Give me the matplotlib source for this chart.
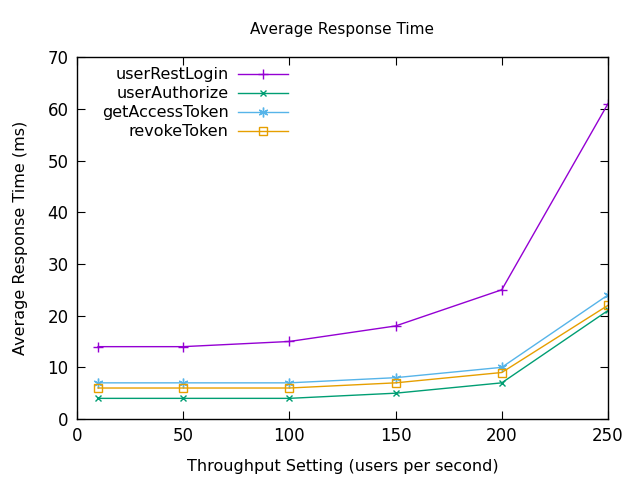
import matplotlib
matplotlib.use("Agg")
import matplotlib.pyplot as plt

# throughput settings (users per second)
throughput = [10, 50, 100, 150, 200, 250]

# average response times (ms)
user_rest_login = [14, 14, 15, 18, 25, 61]
user_authorize = [4, 4, 4, 5, 7, 21]
get_access_token = [7, 7, 7, 8, 10, 24]
revoke_token = [6, 6, 6, 7, 9, 22]

fig = plt.figure(figsize=(6.4, 4.8), dpi=100)
ax = fig.add_axes([0.120, 0.127, 0.830, 0.754])

ax.plot(throughput, user_rest_login, color="#9400d3", marker="+", ms=7, lw=1, label="userRestLogin")
ax.plot(throughput, user_authorize, color="#009e73", marker="x", ms=5, lw=1, label="userAuthorize")
ax.plot(throughput, get_access_token, color="#56b4e9", marker=(6, 2, 0), ms=7, lw=1, label="getAccessToken")
ax.plot(throughput, revoke_token, color="#e69f00", marker="s", ms=6, mfc="none", lw=1, label="revokeToken")

ax.set_xlim(0, 250)
ax.set_ylim(0, 70)
ax.set_xticks(range(0, 251, 50))
ax.set_yticks(range(0, 71, 10))
ax.tick_params(direction="in", top=True, right=True, length=6, labelsize=12, pad=6)
for s in ax.spines.values():
    s.set_linewidth(1)

ax.set_title("Average Response Time", fontsize=11, pad=17)
ax.set_xlabel("Throughput Setting (users per second)", fontsize=11.5, labelpad=10)
ax.set_ylabel("Average Response Time (ms)", fontsize=11.5, labelpad=14)

ax.legend(loc="upper right", bbox_to_anchor=(0.397, 0.972), frameon=False, markerfirst=False,
          fontsize=11.5, handlelength=3.1, labelspacing=0.25, borderaxespad=0, borderpad=0,
          handletextpad=0.6)
leg = ax.get_legend()
for t in leg.get_texts():
    t.set_ha("right")
leg._legend_box.align = "right"

fig.savefig("out.png", dpi=100)
